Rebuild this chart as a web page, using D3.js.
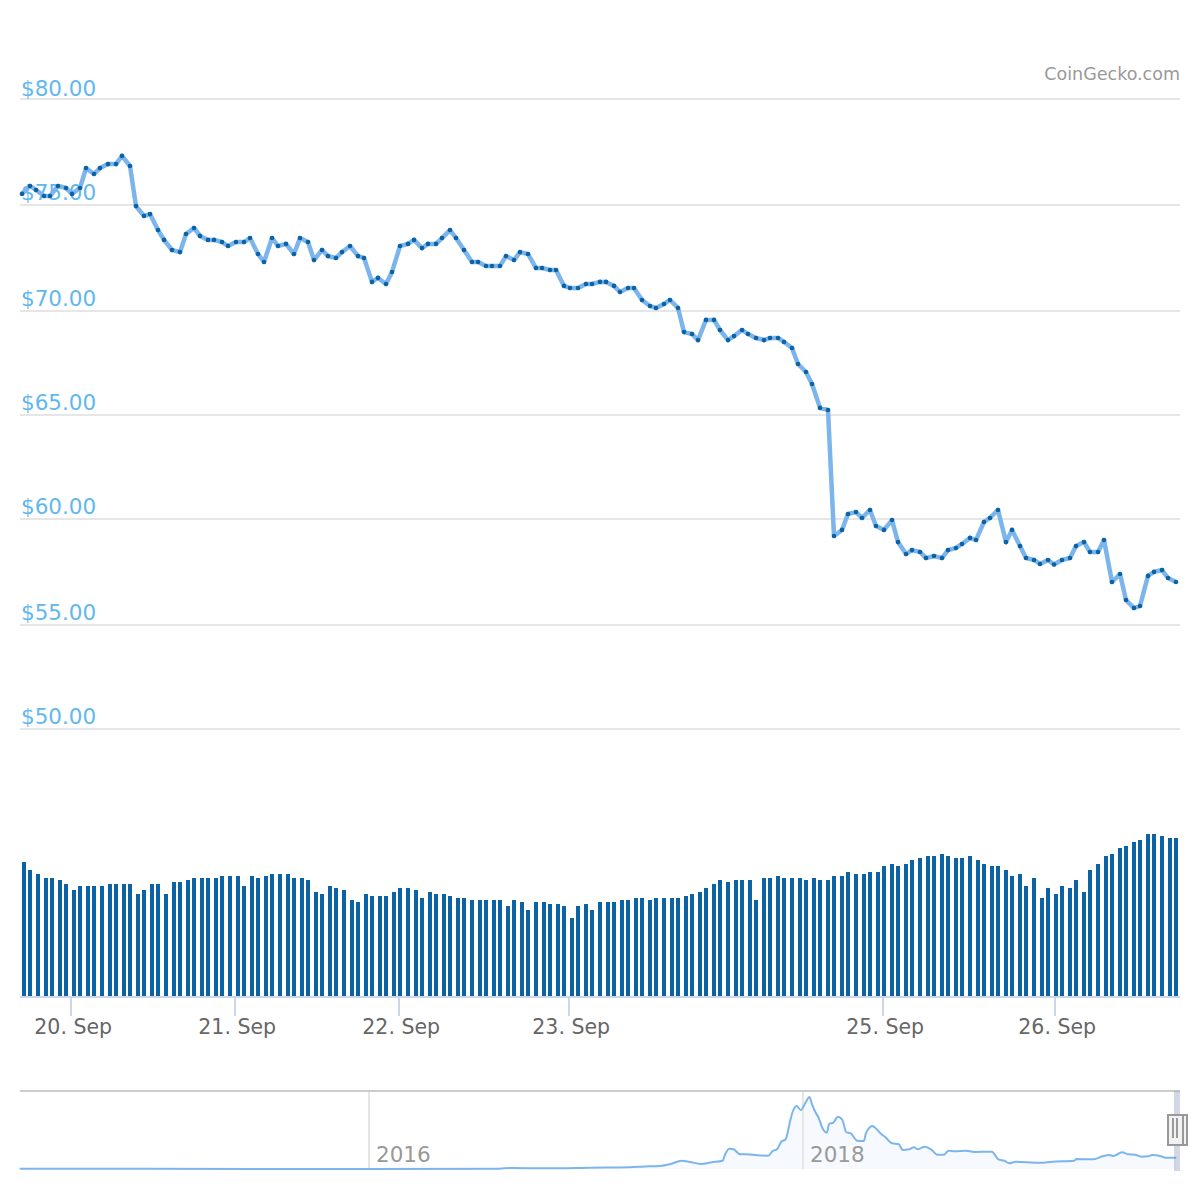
<!DOCTYPE html>
<html><head><meta charset="utf-8">
<style>html,body{margin:0;padding:0;background:#fff}svg{display:block}text{font-family:"DejaVu Sans",sans-serif}</style>
<script src="https://cdn.jsdelivr.net/npm/d3@7"></script></head><body>
<svg id="c" width="1200" height="1200"></svg>
<script>
const prices=[75.48,75.86,75.67,75.38,75.38,75.86,75.76,75.48,75.76,76.71,76.43,76.71,76.90,76.90,77.29,76.81,74.90,74.43,74.52,73.76,73.29,72.81,72.71,73.57,73.86,73.48,73.29,73.29,73.19,73.00,73.19,73.19,73.38,72.62,72.24,73.38,73.00,73.10,72.62,73.38,73.19,72.33,72.81,72.52,72.43,72.71,73.00,72.52,72.43,71.29,71.48,71.19,71.76,73.00,
73.10,73.29,72.90,73.10,73.10,73.38,73.76,73.38,72.81,72.24,72.24,72.05,72.05,72.05,72.52,72.33,72.71,72.62,71.95,71.95,71.86,71.86,71.10,71.00,71.00,71.19,71.19,71.29,71.29,71.10,70.81,71.00,71.00,70.43,70.14,70.05,70.24,70.43,70.05,68.90,68.81,68.52,69.48,69.48,69.00,68.52,68.71,69.00,68.81,68.62,68.52,68.62,68.62,68.43,68.14,67.38,
67.00,66.43,65.29,65.19,59.19,59.48,60.24,60.33,60.05,60.43,59.67,59.48,59.95,58.90,58.33,58.52,58.43,58.14,58.24,58.14,58.52,58.62,58.81,59.10,59.00,59.86,60.05,60.43,58.90,59.48,58.71,58.14,58.05,57.86,58.05,57.83,58.05,58.14,58.71,58.90,58.43,58.43,59.00,57.00,57.38,56.14,55.76,55.86,57.29,57.48,57.57,57.19,57.00];
const volumes=[134,126,122,118,118,116,112,106,110,110,110,110,112,112,112,112,102,106,112,112,102,114,114,116,118,118,118,118,120,120,120,110,120,118,120,122,122,122,118,118,116,104,102,110,108,106,96,94,102,100,100,100,104,
108,108,106,98,104,102,102,100,98,98,96,96,96,96,96,90,96,94,86,94,94,92,92,90,78,90,92,86,94,94,94,96,96,98,98,96,98,98,98,98,100,102,104,108,112,116,114,116,116,116,96,118,118,120,118,118,118,
116,118,116,116,120,120,124,122,122,124,124,130,132,130,132,136,138,140,140,142,140,138,138,140,136,132,130,130,126,120,122,110,118,98,108,102,110,108,116,104,126,132,140,142,148,150,154,156,162,162,160,158,158];
const priceTicks=[50,55,60,65,70,75,80];
const dayTickIndex=[7,30,53,77,121,145];
const dayTickLabels=["20. Sep","21. Sep","22. Sep","23. Sep","25. Sep","26. Sep"];
const navYears=[2014.39,2015,2016,2016.6,2016.65,2016.83,2017.02,2017.2,2017.27,2017.34,2017.39,2017.44,2017.48,2017.53,2017.58,2017.63,2017.64,2017.66,2017.68,2017.71,2017.74,2017.79,2017.84,2017.86,2017.88,2017.90,2017.92,2017.94,2017.95,2017.97,2017.99,2018.01,2018.03,2018.04,2018.06,2018.07,2018.09,2018.11,2018.12,2018.14,2018.16,2018.18,2018.20,2018.22,2018.25,2018.28,2018.29,2018.32,2018.33,2018.36,2018.38,2018.41,2018.44,2018.46,2018.49,2018.51,2018.53,2018.56,2018.59,2018.62,2018.65,2018.67,2018.70,2018.75,2018.79,2018.87,2018.90,2018.93,2018.95,2018.98,2019.09,2019.15,2019.25,2019.26,2019.34,2019.38,2019.41,2019.43,2019.47,2019.50,2019.53,2019.56,2019.59,2019.61,2019.65,2019.67,2019.72];
const navValues=[0.3,0.2,0,0.3,1,0.7,1.3,1.7,2.5,3,5,8.3,7,5,6.7,8.3,14,20.3,19.7,14.7,14.7,13.7,13.3,18,19.7,27.3,29.7,47.3,55.7,63,59,65.7,72,65.7,55.7,52.3,40.7,36.3,45,46.3,52.3,49.7,36.7,35.7,28.3,28,35.7,43,41.7,35,31.7,25.7,25,19,19.7,21.7,19.7,22.3,19.7,14.3,14.3,18.3,17.7,18.3,17,17.3,9.7,8,5.7,7.3,6.3,7.3,8.3,10,9.7,12.7,14,13,16.7,14.7,14.3,12.3,12.7,14,12.7,11.3,11.3];
const navYearTicks=[2016,2018];

const svg=d3.select("#c");
const even=v=>2*Math.round(v/2);
const odd=v=>2*Math.round((v-1)/2)+1;
const xLine=d3.scaleLinear().domain([0,prices.length-1]).range([22.5,1176]);
const xBar=d3.scaleLinear().domain([0,volumes.length-1]).range([23.8,1176.2]);
const xTick=d3.scaleLinear().domain([0,162]).range([21.4,1175.4]);
const y=d3.scaleLinear().domain([50,80]).range([729,99]);
const yGrid=d3.scaleLinear().domain(priceTicks).range([729,625,519,415,311,205,99]);
const yLabel=d3.scaleLinear().domain(priceTicks).range([724,620,514,410,306,200,96]);
const yVol=d3.scaleLinear().domain([0,100]).range([996,896]);
const xNav=d3.scaleLinear().domain([2016,2018]).range([369,803]);
const yNav=d3.scaleLinear().domain([0,72]).range([1169,1097]);

// gridlines and price labels
const gridG=svg.append("g");
gridG.selectAll("line").data(priceTicks).join("line")
 .attr("x1",20).attr("x2",1180).attr("y1",d=>yGrid(d)).attr("y2",d=>yGrid(d))
 .attr("stroke","#e6e6e6").attr("stroke-width",2);
gridG.selectAll("text").data(priceTicks).join("text")
 .attr("x",21).attr("y",d=>yLabel(d)).attr("font-size",21.5).attr("fill","#62b8ee")
 .text(d=>"$"+d.toFixed(2));

// credit
svg.append("text").attr("x",1180).attr("y",80).attr("text-anchor","end")
 .attr("font-size",17.5).attr("fill","#999").text("CoinGecko.com");

// price line + markers
svg.append("path").datum(prices)
 .attr("d",d3.line().x((d,i)=>even(xLine(i))).y(d=>y(d)).curve(d3.curveLinear))
 .attr("fill","none").attr("stroke","#7cb5ec").attr("stroke-width",4.5).attr("stroke-linejoin","round");
svg.append("g").selectAll("circle").data(prices).join("circle")
 .attr("cx",(d,i)=>even(xLine(i))).attr("cy",d=>y(d)).attr("r",2.3).attr("fill","#0b62a4");

// volume bars
svg.append("g").selectAll("rect").data(volumes).join("rect")
 .attr("x",(d,i)=>even(xBar(i))-2).attr("width",4)
 .attr("y",d=>yVol(d)).attr("height",d=>yVol(0)-yVol(d)).attr("fill","#0b62a4");

// x axis
svg.append("line").attr("x1",20).attr("x2",1180).attr("y1",997).attr("y2",997).attr("stroke","#ccd6eb").attr("stroke-width",2);
const axG=svg.append("g").selectAll("g").data(dayTickIndex).join("g")
 .attr("transform",d=>`translate(${odd(xTick(d))},0)`);
axG.append("line").attr("y1",997).attr("y2",1016).attr("stroke","#ccd6eb").attr("stroke-width",2);
axG.append("text").attr("x",2.2).attr("y",1033.5).attr("text-anchor","middle").attr("font-size",20.5).attr("fill","#666")
 .text((d,i)=>dayTickLabels[i]);

// navigator
const areaNav=d3.area().x((d,i)=>xNav(navYears[i])).y0(yNav(0)).y1(d=>yNav(d)).curve(d3.curveMonotoneX);
const lineNav=d3.line().x((d,i)=>xNav(navYears[i])).y(d=>yNav(d)).curve(d3.curveMonotoneX);
svg.append("path").datum(navValues).attr("d",areaNav).attr("fill","#7cb5ec").attr("fill-opacity",0.07);
svg.append("g").selectAll("line").data(navYearTicks).join("line")
 .attr("x1",d=>xNav(d)).attr("x2",d=>xNav(d)).attr("y1",1091).attr("y2",1169).attr("stroke","#e6e6e6").attr("stroke-width",2);
svg.append("g").selectAll("text").data(navYearTicks).join("text")
 .attr("x",d=>xNav(d)+7).attr("y",1162).attr("font-size",21.5).attr("fill","#999").text(d=>d);
svg.append("path").datum(navValues).attr("d",lineNav).attr("fill","none").attr("stroke","#7cb5ec").attr("stroke-width",2);
svg.append("line").attr("x1",20).attr("x2",1180).attr("y1",1091).attr("y2",1091).attr("stroke","#cccccc").attr("stroke-width",2);
svg.append("rect").attr("x",1174).attr("y",1091).attr("width",6).attr("height",80).attr("fill","#667aa6").attr("fill-opacity",0.3);
// handles
svg.append("rect").attr("x",1179).attr("y",1115).attr("width",8).attr("height",30).attr("fill","#f2f2f2").attr("stroke","#999").attr("stroke-width",2);
svg.append("rect").attr("x",1168).attr("y",1115).attr("width",15).attr("height",30).attr("fill","#f2f2f2").attr("stroke","#999").attr("stroke-width",2);
svg.append("g").selectAll("line").data([1173,1177]).join("line")
 .attr("x1",d=>d).attr("x2",d=>d).attr("y1",1118).attr("y2",1138).attr("stroke","#999").attr("stroke-width",2);
</script></body></html>
